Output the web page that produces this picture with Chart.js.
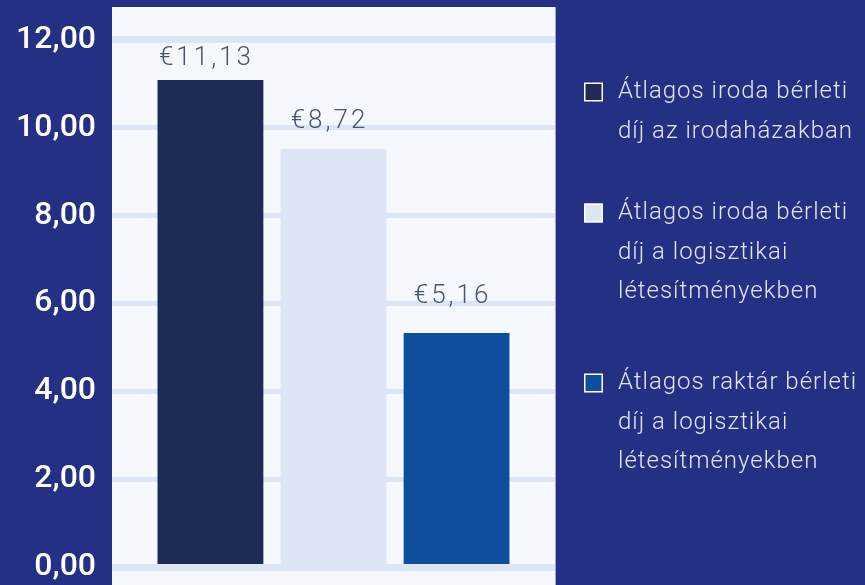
<!DOCTYPE html>
<html><head><meta charset="utf-8">
<script src="https://cdn.jsdelivr.net/npm/chart.js@4"></script>
<style>html,body{margin:0;padding:0;background:#243083;overflow:hidden}#wrap{width:865px;height:585px;position:relative}</style>
</head><body><div id="wrap"><canvas id="c" width="865" height="585"></canvas></div>
<script>
// ---- data ----
const categories = [
  ["Átlagos iroda bérleti", "díj az irodaházakban"],
  ["Átlagos iroda bérleti", "díj a logisztikai", "létesítményekben"],
  ["Átlagos raktár bérleti", "díj a logisztikai", "létesítményekben"]
];
const barValues = [11.08, 9.51, 5.33];
const valueLabels = ["€11,13", "€8,72", "€5,16"];
const yTicks = [0, 2, 4, 6, 8, 10, 12];

// ---- style ----
const barColors = ["#1f2b56", "#dce6f4", "#0f4e9c"];
const NAVY = "#243083";
const PLOT_BG = "#f5f9fd";
const GRID = "#dce6f4";
const labelStyle = { font: "300 26px Roboto", color: "#4a5474", gaps: [15, 21, 30], dx: -4, spacing: "3px" };
const legendStyle = { boxX: 584, textX: 618, box: 19, firstLines: [92, 213, 383], lineH: 39.5,
  font: "300 24px Roboto", color: "#e2e5f0", spacing: "1px" };

const bgPlugin = {
  id: "bg",
  beforeDraw(chart) {
    const {ctx, chartArea: a} = chart;
    ctx.save();
    ctx.fillStyle = NAVY;
    ctx.fillRect(0, 0, chart.width, chart.height);
    ctx.fillStyle = PLOT_BG;
    ctx.fillRect(a.left, a.top, a.right - a.left, a.bottom - a.top);
    ctx.fillStyle = "#9aa4cf";
    ctx.fillRect(a.right, a.top, 1, a.bottom - a.top);
    ctx.restore();
  }
};

const valueLabelPlugin = {
  id: "valueLabels",
  afterDatasetsDraw(chart) {
    const {ctx} = chart;
    const meta = chart.getDatasetMeta(0);
    ctx.save();
    ctx.font = labelStyle.font;
    ctx.fillStyle = labelStyle.color;
    ctx.textAlign = "center";
    ctx.textBaseline = "alphabetic";
    if ("letterSpacing" in ctx) ctx.letterSpacing = labelStyle.spacing;
    meta.data.forEach((bar, i) => {
      ctx.fillText(valueLabels[i], bar.x + labelStyle.dx, bar.y - labelStyle.gaps[i]);
    });
    ctx.restore();
  }
};

const legendPlugin = {
  id: "sideLegend",
  afterDraw(chart) {
    const {ctx} = chart;
    const s = legendStyle;
    ctx.save();
    categories.forEach((lines, i) => {
      const y0 = s.firstLines[i];
      ctx.fillStyle = barColors[i];
      ctx.fillRect(s.boxX, y0 - s.box / 2, s.box, s.box);
      ctx.strokeStyle = "#ffffff";
      ctx.lineWidth = 1.5;
      ctx.strokeRect(s.boxX + 0.75, y0 - s.box / 2 + 0.75, s.box - 1.5, s.box - 1.5);
      ctx.font = s.font;
      ctx.fillStyle = s.color;
      ctx.textAlign = "left";
      ctx.textBaseline = "middle";
      if ("letterSpacing" in ctx) ctx.letterSpacing = s.spacing;
      lines.forEach((ln, j) => ctx.fillText(ln, s.textX, y0 + j * s.lineH));
    });
    ctx.restore();
  }
};

new Chart(document.getElementById("c"), {
  type: "bar",
  data: {
    labels: categories,
    datasets: [{
      data: barValues.map((v, i) => ({x: i, y: v})),
      backgroundColor: barColors,
      borderWidth: 0,
      categoryPercentage: 1,
      barPercentage: 0.86
    }]
  },
  options: {
    responsive: false,
    animation: false,
    devicePixelRatio: 1,
    layout: { padding: { left: 0, right: 310, top: 7, bottom: 0 } },
    plugins: { legend: { display: false }, tooltip: { enabled: false } },
    scales: {
      x: {
        type: "linear", display: false, min: -0.8, max: 2.8, offset: false,
        afterBuildTicks: sc => { sc.ticks = categories.map((c, i) => ({value: i})); }
      },
      y: {
        type: "linear", min: -0.4, max: 12.74, bounds: "data",
        border: { display: false },
        grid: { color: GRID, lineWidth: c => (c.tick && (c.tick.value === 0 || c.tick.value === 12)) ? 7 : 5, drawTicks: false },
        afterBuildTicks: sc => { sc.ticks = yTicks.map(v => ({value: v})); },
        afterFit: sc => { sc.width = 112; sc.paddingTop = 0; sc.paddingBottom = 0; },
        ticks: {
          color: "#ffffff",
          font: { family: "Roboto", size: 32, weight: "500" },
          padding: 16,
          callback: v => Number(v).toFixed(2).replace(".", ",")
        }
      }
    }
  },
  plugins: [bgPlugin, valueLabelPlugin, legendPlugin]
});
</script>
</body></html>
